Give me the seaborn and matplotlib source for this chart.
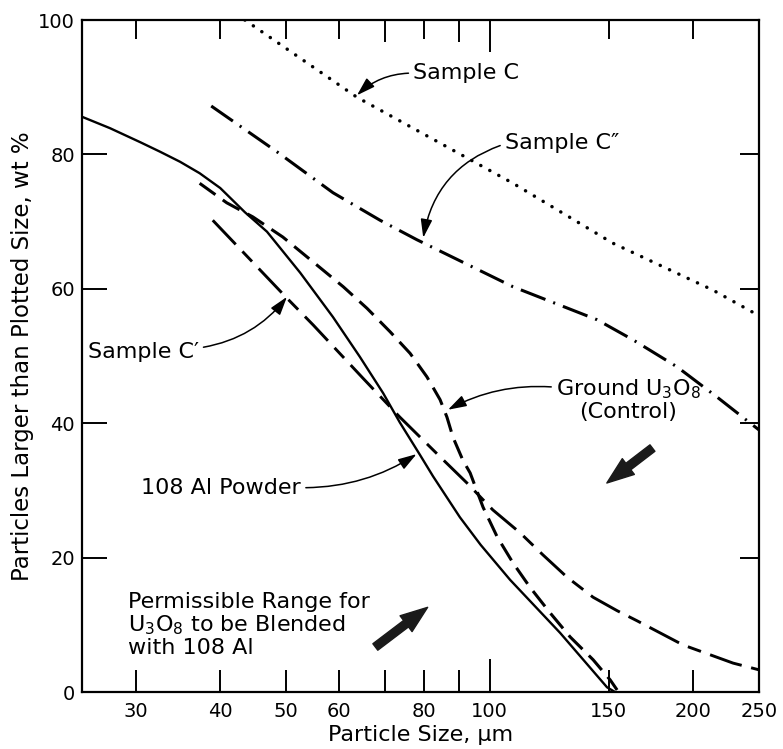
import matplotlib
matplotlib.use("Agg")
import numpy as np
import pandas as pd
import matplotlib.pyplot as plt
import seaborn as sns
from matplotlib.ticker import FixedLocator, NullFormatter

# ------------------------------------------------------------
# Digitised curves: particle size (um) vs wt % larger than size
# ------------------------------------------------------------
sample_c_size = [43.5, 63.7, 108.3, 152, 213.8, 250]
sample_c_pct = [100, 88.5, 75.7, 66.8, 59.8, 56.0]

sample_c2_size = [38.8, 48.5, 58.7, 68.9, 78.1, 108.3, 144.1, 162.9, 189.1, 216.7, 244.9, 250]
sample_c2_pct = [87.2, 80.4, 74.3, 70.2, 67.3, 60.3, 55.4, 52.4, 48.4, 43.9, 39.7, 39.0]

sample_c1_size = [39.0, 50.2, 54.9, 65.0, 73.7, 84.5, 92.6, 101.1, 110.9, 119.9, 130.1,
                  142.2, 154.3, 165.1, 193.1, 228.9, 250]
sample_c1_pct = [70.2, 58.6, 54.6, 46.7, 40.9, 35.0, 31.1, 27.1, 23.7, 20.4, 17.1,
                 14.1, 12.1, 10.6, 7.0, 4.3, 3.3]

ground_size = [37.3, 40.9, 44.7, 49.5, 56.1, 60.8, 65.9, 71.3, 76.3, 80.8, 84.5, 86.5,
               88.3, 91.3, 93.6, 97.8, 102.6, 108.3, 114.7, 122.8, 131.5, 142.2, 150.7, 154.3]
ground_pct = [75.7, 72.8, 70.7, 67.7, 63.2, 60.3, 57.1, 53.6, 50.4, 46.9, 43.5, 40.9,
              37.9, 34.5, 32.6, 27.5, 23.1, 19.2, 15.6, 11.8, 8.2, 4.8, 1.8, 0.3]

al_size = [25, 27.5, 30.5, 32.6, 34.9, 37.3, 40.0, 43.5, 46.9, 52.5, 58.7, 64.3, 69.6,
           73.7, 78.9, 82.5, 90.4, 97.0, 107.2, 127.1, 149.1, 153.2]
al_pct = [85.6, 83.9, 81.8, 80.4, 78.9, 77.2, 75.0, 71.4, 68.5, 62.4, 55.8, 49.9, 44.5,
          40.1, 35.3, 32.1, 26.0, 21.9, 16.7, 8.8, 0.7, 0.0]

x_ticks = [30, 40, 50, 60, 80, 100, 150, 200, 250]
x_minor = [70, 90]
y_ticks = [0, 20, 40, 60, 80, 100]

# ------------------------------------------------------------
sns.set_style("ticks")
plt.rcParams["font.family"] = ["DejaVu Sans"]
plt.rcParams["mathtext.default"] = "regular"
plt.rcParams["lines.scale_dashes"] = False
plt.rcParams["text.color"] = "black"
plt.rcParams["axes.labelcolor"] = "black"

fig = plt.figure(figsize=(7.83, 7.49), dpi=100)
ax = fig.add_axes([82 / 783, 57 / 749, 677 / 783, 672 / 749])

curves = [
    (sample_c_size, sample_c_pct, dict(linewidth=2.5, linestyle=(0, (0.1, 7.3)), dash_capstyle="round")),
    (sample_c2_size, sample_c2_pct, dict(linewidth=2.2, linestyle=(0, (19, 6, 1.5, 6)))),
    (sample_c1_size, sample_c1_pct, dict(linewidth=2.1, linestyle=(0, (24, 7, 10, 7)))),
    (ground_size, ground_pct, dict(linewidth=2.2, linestyle=(0, (14, 6.5)))),
    (al_size, al_pct, dict(linewidth=1.7, linestyle="-")),
]
for xs, ys, kw in curves:
    df = pd.DataFrame({"size": xs, "pct": ys})
    sns.lineplot(data=df, x="size", y="pct", ax=ax, color="black",
                 estimator=None, sort=False, **kw)

ax.set_xscale("log")
ax.set_xlim(25, 250)
ax.set_ylim(0, 100)

ax.xaxis.set_major_locator(FixedLocator(x_ticks))
ax.set_xticklabels([str(t) for t in x_ticks])
ax.xaxis.set_minor_locator(FixedLocator(x_minor))
ax.xaxis.set_minor_formatter(NullFormatter())
ax.set_yticks(y_ticks)
ax.set_yticklabels([str(t) for t in y_ticks])

for s in ax.spines.values():
    s.set_visible(True)
    s.set_linewidth(1.6)
    s.set_color("black")

ax.tick_params(axis="both", which="both", direction="in", top=True, right=True,
               width=1.4, color="black", labelsize=14, labelcolor="black")
ax.tick_params(axis="x", which="both", length=16, pad=7)
ax.tick_params(axis="y", which="both", length=18, pad=5)

# the 100 um tick is drawn longer, right-hand y ticks shorter
for t, v in zip(ax.xaxis.get_major_ticks(), x_ticks):
    if v == 100:
        t.tick1line.set_markersize(24)
        t.tick2line.set_markersize(23)
    else:
        t.tick2line.set_markersize(14)
for t in ax.yaxis.get_major_ticks():
    t.tick2line.set_markersize(14)

ax.set_xlabel("Particle Size, \u03bcm", fontsize=16, labelpad=3)
ax.set_ylabel("Particles Larger than Plotted Size, wt %", fontsize=16.5, labelpad=3)

# ------------------------------------------------------------
# Labels with curved pointer arrows
# ------------------------------------------------------------
thin = dict(arrowstyle="-|>,head_length=0.7,head_width=0.22", color="black",
            linewidth=1.1, shrinkA=1, shrinkB=0)
fs = 16

ax.annotate("Sample C", xy=(63.7, 88.8), xytext=(77.1, 92.1), fontsize=fs,
            ha="left", va="center",
            arrowprops=dict(thin, connectionstyle="arc3,rad=0.2", relpos=(0, 0.5)))
ax.annotate("Sample C\u2033", xy=(79.8, 67.6), xytext=(105.3, 81.7), fontsize=fs,
            ha="left", va="center",
            arrowprops=dict(thin, connectionstyle="arc3,rad=0.3", relpos=(0, 0.45)))
ax.annotate("Sample C\u2032", xy=(50.2, 58.8), xytext=(25.5, 50.6), fontsize=fs,
            ha="left", va="center",
            arrowprops=dict(thin, connectionstyle="arc3,rad=0.2", relpos=(1, 0.7)))
ax.annotate("Ground U$_3$O$_8$\n(Control)", xy=(86.8, 42.0), xytext=(160.3, 43.5),
            fontsize=fs, ha="center", va="center", multialignment="center",
            linespacing=1.05,
            arrowprops=dict(thin, connectionstyle="arc3,rad=0.15", relpos=(0, 0.78)))
ax.annotate("108 Al Powder", xy=(78.0, 35.4), xytext=(30.6, 30.4), fontsize=fs,
            ha="left", va="center",
            arrowprops=dict(thin, connectionstyle="arc3,rad=0.15", relpos=(1, 0.5)))

ax.text(29.2, 14.9, "Permissible Range for\nU$_3$O$_8$ to be Blended\nwith 108 Al",
        fontsize=fs, ha="left", va="top", linespacing=1.08)

# heavy arrows pointing into the permissible range
fat = dict(arrowstyle="simple,head_length=1.5,head_width=1.1,tail_width=0.45",
           color="#1a1a1a", mutation_scale=13, shrinkA=0, shrinkB=0)
ax.annotate("", xy=(81, 12.6), xytext=(67.8, 6.7), arrowprops=fat)
ax.annotate("", xy=(149, 31.1), xytext=(174, 36.3), arrowprops=fat)

fig.savefig("out.png", dpi=100)
